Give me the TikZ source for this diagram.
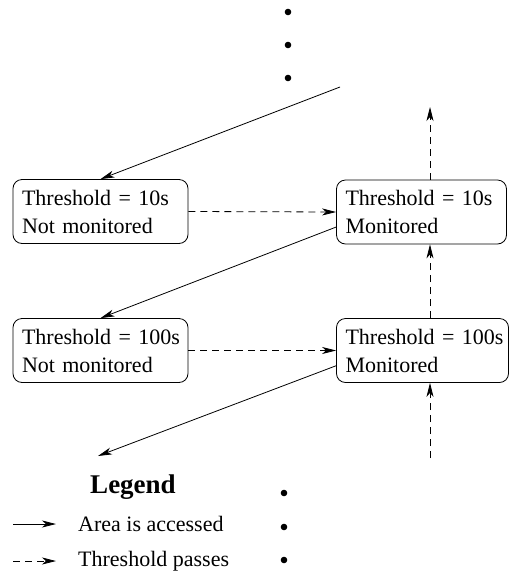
\documentclass[tikz,border=0pt]{standalone}
\usepackage{fontspec}
\setmainfont{Liberation Serif}
\usetikzlibrary{arrows.meta,calc}

\begin{document}
\begin{tikzpicture}[x=1pt, y=-1pt,
    every node/.style={font=\fontsize{22}{28}\selectfont},
    statebox/.style={draw, line width=0.8pt, rounded corners=9pt, align=left,
      minimum height=64pt, inner xsep=9pt, inner ysep=0pt},
    access/.style={line width=0.8pt, -{Stealth[length=14pt, width=7pt, inset=4pt]}},
    pass/.style={access, dash pattern=on 7pt off 5pt}]
  \useasboundingbox (0,0) rectangle (509,574);

  % Puntos
  \foreach \y in {12,45,78} \fill (288,\y) circle (3.3);
  \foreach \y in {493,527,560} \fill (284,\y) circle (3.3);

  % Estados
  \node[statebox, text width=157pt] (nm10)  at (100.5,211.5) {Threshold~=~10s\\Not monitored};
  \node[statebox, text width=152pt] (m10)   at (421.5,212)   {Threshold~=~10s\\Monitored};
  \node[statebox, text width=157pt] (nm100) at (100.5,350.5) {Threshold~=~100s\\Not monitored};
  \node[statebox, text width=154pt] (m100)  at (422.5,350.5) {Threshold~=~100s\\Monitored};

  % Extremos libres
  \path (340,87)  coordinate (topin);
  \path (98,456)  coordinate (botout);
  \path (430,458) coordinate (upstart);
  \path (430,107) coordinate (upend);

  % Accesos
  \draw[access] (topin) -- (nm10.north);
  \draw[access] (m10.190) -- (nm100.north);
  \draw[access] (m100.190) -- (botout);

  % Umbrales
  \draw[pass] (nm10.east) -- (m10.west);
  \draw[pass] (nm100.east) -- (m100.west);
  \draw[pass] (upstart) -- (upstart |- m100.south);
  \draw[pass] (upstart |- m100.north) -- (upstart |- m10.south);
  \draw[pass] (upstart |- m10.north) -- (upend);

  % Leyenda
  \node[font=\fontsize{27}{32}\selectfont\bfseries] (legend) at (133,487) {Legend};
  \path (13,524) coordinate (la) (56,524) coordinate (lb);
  \path (13,561) coordinate (lc) (56,561) coordinate (ld);
  \draw[access] (la) -- (lb);
  \draw[pass] (lc) -- (ld);
  \node[anchor=west, inner sep=0pt] (lacc)  at (78,524) {Area is accessed};
  \node[anchor=west, inner sep=0pt] (lpass) at (78,561) {Threshold passes};
\end{tikzpicture}
\end{document}
